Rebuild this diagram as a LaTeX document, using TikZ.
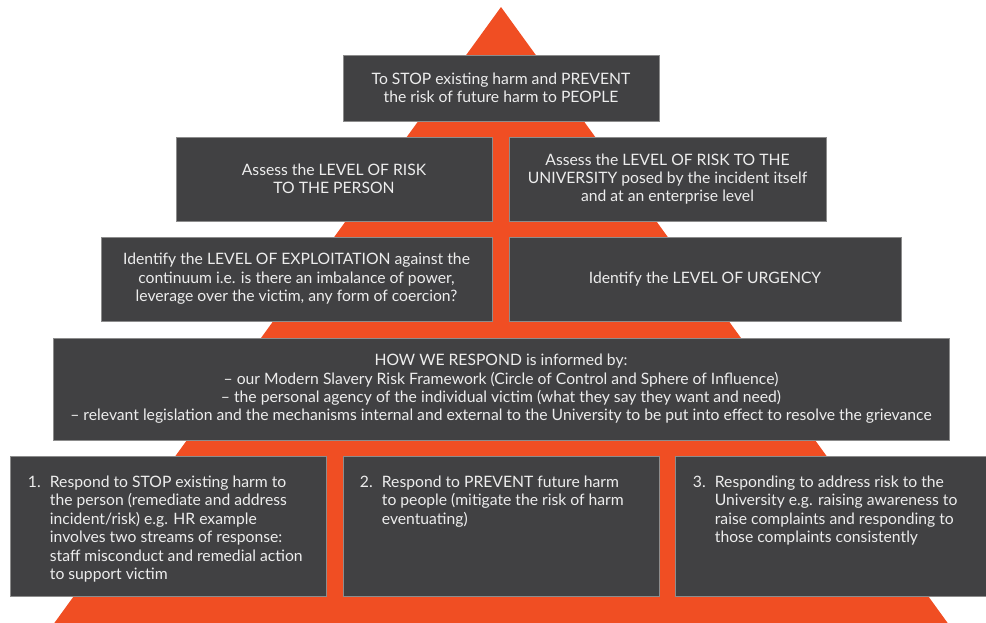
\documentclass[tikz,border=0pt]{standalone}
\usepackage{fontspec}
\setmainfont{Lato}
\definecolor{pyramid}{HTML}{F04E23}
\definecolor{boxgray}{HTML}{414143}
\definecolor{boxline}{HTML}{8C8C8C}
\definecolor{boxtext}{HTML}{EDEDED}
\tikzset{
  levelbox/.style={rectangle,fill=boxgray,draw=boxline,line width=.6pt,inner sep=0pt,
    text=boxtext,align=center,font=\fontsize{15.7}{18.4}\selectfont},
  itemtext/.style={inner sep=0pt,text=boxtext,align=left,anchor=north west,
    font=\fontsize{15.7}{18.4}\selectfont}
}
\newcommand{\itemno}[1]{\makebox[22pt][l]{#1}}
\newcommand{\itemgap}{\hspace*{22pt}}
\begin{document}
\begin{tikzpicture}[x=1pt,y=-1pt]
    % Pirámide de fondo y los niveles de evaluación y respuesta.
    \useasboundingbox (0,0) rectangle (986,622);
    \fill[pyramid] (501,7) -- (960,640) -- (42,640) -- cycle;

    \node[levelbox,minimum width=316pt,minimum height=66pt] (goal) at (501,88)
        {To STOP existing harm and PREVENT\\the risk of future harm to PEOPLE};

    \node[levelbox,minimum width=316pt,minimum height=84pt] (riskperson) at (334,179)
        {Assess the LEVEL OF RISK\\TO THE PERSON};
    \node[levelbox,minimum width=317pt,minimum height=84pt] (riskuni) at (667.5,179)
        {Assess the LEVEL OF RISK TO THE\\UNIVERSITY posed by the incident itself\\and at an enterprise level};

    \node[levelbox,minimum width=391pt,minimum height=84pt] (exploit) at (296.5,279)
        {Identify the LEVEL OF EXPLOITATION against the\\continuum i.e. is there an imbalance of power,\\leverage over the victim, any form of coercion?};
    \node[levelbox,minimum width=392pt,minimum height=84pt] (urgency) at (705,279)
        {Identify the LEVEL OF URGENCY};

    \node[levelbox,minimum width=896pt,minimum height=102pt] (respond) at (501,389)
        {HOW WE RESPOND is informed by:\\
         – our Modern Slavery Risk Framework (Circle of Control and Sphere of Influence)\\
         – the personal agency of the individual victim (what they say they want and need)\\
         – relevant legislation and the mechanisms internal and external to the University to be put into effect to resolve the grievance};

    \node[levelbox,minimum width=316pt,minimum height=140pt] (stop) at (168,526) {};
    \node[levelbox,minimum width=316pt,minimum height=140pt] (prevent) at (501,526) {};
    \node[levelbox,minimum width=312pt,minimum height=140pt] (address) at (831,526) {};

    \node[itemtext] (stoptext) at ([xshift=18pt,yshift=-20pt]stop.north west)
        {\itemno{1.}Respond to STOP existing harm to\\
         \itemgap the person (remediate and address\\
         \itemgap incident/risk) e.g. HR example\\
         \itemgap involves two streams of response:\\
         \itemgap staff misconduct and remedial action\\
         \itemgap to support victim};
    \node[itemtext] (preventtext) at ([xshift=17pt,yshift=-20pt]prevent.north west)
        {\itemno{2.}Respond to PREVENT future harm\\
         \itemgap to people (mitigate the risk of harm\\
         \itemgap eventuating)};
    \node[itemtext] (addresstext) at ([xshift=18pt,yshift=-20pt]address.north west)
        {\itemno{3.}Responding to address risk to the\\
         \itemgap University e.g. raising awareness to\\
         \itemgap raise complaints and responding to\\
         \itemgap those complaints consistently};
\end{tikzpicture}
\end{document}
